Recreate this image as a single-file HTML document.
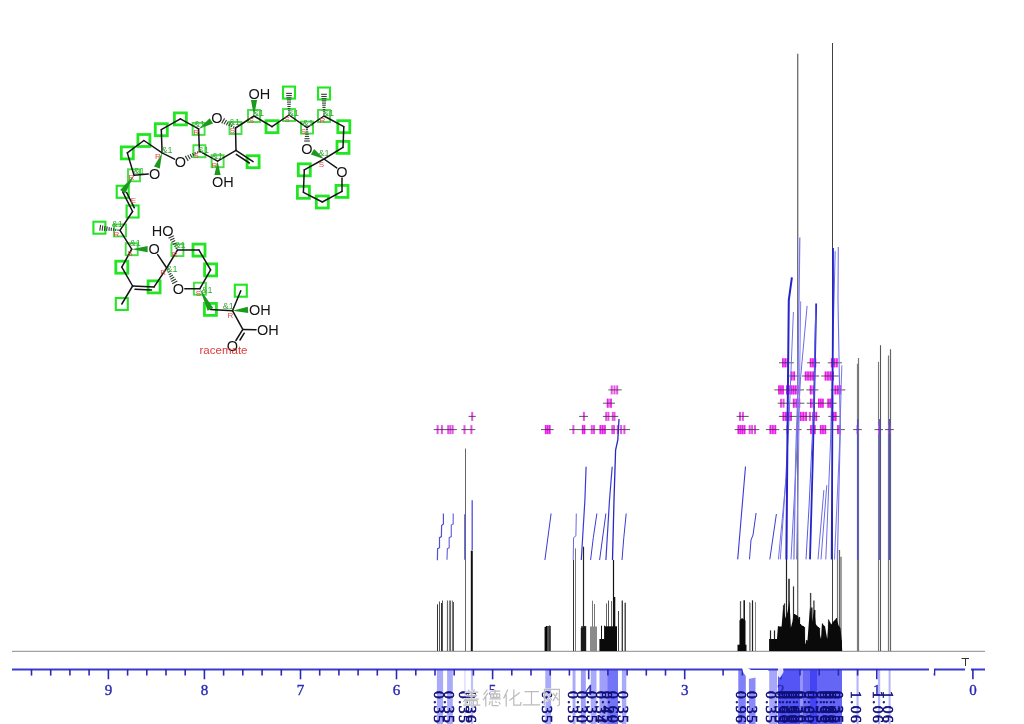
<!DOCTYPE html>
<html><head><meta charset="utf-8"><style>
html,body{margin:0;padding:0;background:#fff;width:1024px;height:724px;overflow:hidden}
svg{display:block;filter:blur(0.35px)}
</style></head><body>
<svg width="1024" height="724" viewBox="0 0 1024 724">
<rect x="436.9" y="670" width="6.2" height="54" fill="#2a2af2" fill-opacity="0.4"/>
<rect x="447.1" y="670" width="5.7" height="54" fill="#2a2af2" fill-opacity="0.4"/>
<rect x="464.3" y="670" width="1.3" height="54" fill="#2a2af2" fill-opacity="0.18"/>
<rect x="470.9" y="670" width="2.2" height="54" fill="#2a2af2" fill-opacity="0.3"/>
<rect x="545.3" y="670" width="5.8" height="54" fill="#2a2af2" fill-opacity="0.4"/>
<rect x="572.6" y="670" width="2.9" height="54" fill="#2a2af2" fill-opacity="0.4"/>
<rect x="580.9" y="670" width="4.9" height="54" fill="#2a2af2" fill-opacity="0.45"/>
<rect x="590.7" y="670" width="5.8" height="54" fill="#2a2af2" fill-opacity="0.4"/>
<rect x="599.5" y="670" width="7.8" height="54" fill="#2a2af2" fill-opacity="0.45"/>
<rect x="607.3" y="670" width="10.7" height="54" fill="#2a2af2" fill-opacity="0.65"/>
<rect x="621.9" y="670" width="4.4" height="54" fill="#2a2af2" fill-opacity="0.4"/>
<rect x="738.3" y="670" width="7.5" height="54" fill="#2a2af2" fill-opacity="0.6"/>
<rect x="748.9" y="670" width="6.6" height="54" fill="#2a2af2" fill-opacity="0.55"/>
<rect x="769.2" y="670" width="8" height="54" fill="#2a2af2" fill-opacity="0.42"/>
<rect x="778" y="670" width="22" height="54" fill="#2a2af2" fill-opacity="0.8"/>
<rect x="800" y="670" width="3" height="54" fill="#2a2af2" fill-opacity="0.5"/>
<rect x="803" y="670" width="7" height="54" fill="#2a2af2" fill-opacity="0.7"/>
<rect x="810" y="670" width="7" height="54" fill="#2a2af2" fill-opacity="0.88"/>
<rect x="817" y="670" width="25" height="54" fill="#2a2af2" fill-opacity="0.72"/>
<rect x="856.5" y="670" width="2.1" height="54" fill="#2a2af2" fill-opacity="0.35"/>
<rect x="878" y="670" width="2.2" height="54" fill="#2a2af2" fill-opacity="0.35"/>
<rect x="888.6" y="670" width="2" height="54" fill="#2a2af2" fill-opacity="0.35"/>
<line x1="12" y1="651.3" x2="985" y2="651.3" stroke="#8a8a8a" stroke-width="1"/>
<line x1="12" y1="669.6" x2="985" y2="669.6" stroke="#3a3ad0" stroke-width="2"/>
<line x1="972.9" y1="669" x2="972.9" y2="679.3" stroke="#2a2ab8" stroke-width="1.6"/>
<text x="972.9" y="694.6" font-family="Liberation Serif" font-size="15" fill="#2a2ab4" stroke="#2a2ab4" stroke-width="0.4" text-anchor="middle">0</text>
<line x1="934.5" y1="669" x2="934.5" y2="675.6" stroke="#2a2ab8" stroke-width="1.6"/>
<line x1="876.8" y1="669" x2="876.8" y2="679.3" stroke="#2a2ab8" stroke-width="1.6"/>
<text x="876.8" y="694.6" font-family="Liberation Serif" font-size="15" fill="#2a2ab4" stroke="#2a2ab4" stroke-width="0.4" text-anchor="middle">1</text>
<line x1="857.6" y1="669" x2="857.6" y2="675.6" stroke="#2a2ab8" stroke-width="1.6"/>
<line x1="838.4" y1="669" x2="838.4" y2="675.6" stroke="#2a2ab8" stroke-width="1.6"/>
<line x1="819.2" y1="669" x2="819.2" y2="675.6" stroke="#2a2ab8" stroke-width="1.6"/>
<line x1="800" y1="669" x2="800" y2="675.6" stroke="#2a2ab8" stroke-width="1.6"/>
<line x1="780.8" y1="669" x2="780.8" y2="679.3" stroke="#2a2ab8" stroke-width="1.6"/>
<text x="780.8" y="694.6" font-family="Liberation Serif" font-size="15" fill="#2a2ab4" stroke="#2a2ab4" stroke-width="0.4" text-anchor="middle">2</text>
<line x1="742.4" y1="669" x2="742.4" y2="675.6" stroke="#2a2ab8" stroke-width="1.6"/>
<line x1="723.1" y1="669" x2="723.1" y2="675.6" stroke="#2a2ab8" stroke-width="1.6"/>
<line x1="684.7" y1="669" x2="684.7" y2="679.3" stroke="#2a2ab8" stroke-width="1.6"/>
<text x="684.7" y="694.6" font-family="Liberation Serif" font-size="15" fill="#2a2ab4" stroke="#2a2ab4" stroke-width="0.4" text-anchor="middle">3</text>
<line x1="665.5" y1="669" x2="665.5" y2="675.6" stroke="#2a2ab8" stroke-width="1.6"/>
<line x1="646.3" y1="669" x2="646.3" y2="675.6" stroke="#2a2ab8" stroke-width="1.6"/>
<line x1="627.1" y1="669" x2="627.1" y2="675.6" stroke="#2a2ab8" stroke-width="1.6"/>
<line x1="607.9" y1="669" x2="607.9" y2="675.6" stroke="#2a2ab8" stroke-width="1.6"/>
<line x1="588.7" y1="669" x2="588.7" y2="679.3" stroke="#2a2ab8" stroke-width="1.6"/>
<text x="588.7" y="694.6" font-family="Liberation Serif" font-size="15" fill="#2a2ab4" stroke="#2a2ab4" stroke-width="0.4" text-anchor="middle">4</text>
<line x1="569.4" y1="669" x2="569.4" y2="675.6" stroke="#2a2ab8" stroke-width="1.6"/>
<line x1="550.2" y1="669" x2="550.2" y2="675.6" stroke="#2a2ab8" stroke-width="1.6"/>
<line x1="531" y1="669" x2="531" y2="675.6" stroke="#2a2ab8" stroke-width="1.6"/>
<line x1="511.8" y1="669" x2="511.8" y2="675.6" stroke="#2a2ab8" stroke-width="1.6"/>
<line x1="492.6" y1="669" x2="492.6" y2="679.3" stroke="#2a2ab8" stroke-width="1.6"/>
<text x="492.6" y="694.6" font-family="Liberation Serif" font-size="15" fill="#2a2ab4" stroke="#2a2ab4" stroke-width="0.4" text-anchor="middle">5</text>
<line x1="473.4" y1="669" x2="473.4" y2="675.6" stroke="#2a2ab8" stroke-width="1.6"/>
<line x1="454.2" y1="669" x2="454.2" y2="675.6" stroke="#2a2ab8" stroke-width="1.6"/>
<line x1="435" y1="669" x2="435" y2="675.6" stroke="#2a2ab8" stroke-width="1.6"/>
<line x1="415.8" y1="669" x2="415.8" y2="675.6" stroke="#2a2ab8" stroke-width="1.6"/>
<line x1="396.5" y1="669" x2="396.5" y2="679.3" stroke="#2a2ab8" stroke-width="1.6"/>
<text x="396.5" y="694.6" font-family="Liberation Serif" font-size="15" fill="#2a2ab4" stroke="#2a2ab4" stroke-width="0.4" text-anchor="middle">6</text>
<line x1="377.3" y1="669" x2="377.3" y2="675.6" stroke="#2a2ab8" stroke-width="1.6"/>
<line x1="358.1" y1="669" x2="358.1" y2="675.6" stroke="#2a2ab8" stroke-width="1.6"/>
<line x1="338.9" y1="669" x2="338.9" y2="675.6" stroke="#2a2ab8" stroke-width="1.6"/>
<line x1="319.7" y1="669" x2="319.7" y2="675.6" stroke="#2a2ab8" stroke-width="1.6"/>
<line x1="300.5" y1="669" x2="300.5" y2="679.3" stroke="#2a2ab8" stroke-width="1.6"/>
<text x="300.5" y="694.6" font-family="Liberation Serif" font-size="15" fill="#2a2ab4" stroke="#2a2ab4" stroke-width="0.4" text-anchor="middle">7</text>
<line x1="281.3" y1="669" x2="281.3" y2="675.6" stroke="#2a2ab8" stroke-width="1.6"/>
<line x1="262.1" y1="669" x2="262.1" y2="675.6" stroke="#2a2ab8" stroke-width="1.6"/>
<line x1="242.8" y1="669" x2="242.8" y2="675.6" stroke="#2a2ab8" stroke-width="1.6"/>
<line x1="223.6" y1="669" x2="223.6" y2="675.6" stroke="#2a2ab8" stroke-width="1.6"/>
<line x1="204.4" y1="669" x2="204.4" y2="679.3" stroke="#2a2ab8" stroke-width="1.6"/>
<text x="204.4" y="694.6" font-family="Liberation Serif" font-size="15" fill="#2a2ab4" stroke="#2a2ab4" stroke-width="0.4" text-anchor="middle">8</text>
<line x1="185.2" y1="669" x2="185.2" y2="675.6" stroke="#2a2ab8" stroke-width="1.6"/>
<line x1="166" y1="669" x2="166" y2="675.6" stroke="#2a2ab8" stroke-width="1.6"/>
<line x1="146.8" y1="669" x2="146.8" y2="675.6" stroke="#2a2ab8" stroke-width="1.6"/>
<line x1="127.6" y1="669" x2="127.6" y2="675.6" stroke="#2a2ab8" stroke-width="1.6"/>
<line x1="108.4" y1="669" x2="108.4" y2="679.3" stroke="#2a2ab8" stroke-width="1.6"/>
<text x="108.4" y="694.6" font-family="Liberation Serif" font-size="15" fill="#2a2ab4" stroke="#2a2ab4" stroke-width="0.4" text-anchor="middle">9</text>
<line x1="89.1" y1="669" x2="89.1" y2="675.6" stroke="#2a2ab8" stroke-width="1.6"/>
<line x1="69.9" y1="669" x2="69.9" y2="675.6" stroke="#2a2ab8" stroke-width="1.6"/>
<line x1="50.7" y1="669" x2="50.7" y2="675.6" stroke="#2a2ab8" stroke-width="1.6"/>
<line x1="31.5" y1="669" x2="31.5" y2="675.6" stroke="#2a2ab8" stroke-width="1.6"/>
<line x1="437.5" y1="651.0" x2="437.5" y2="604.3" stroke="#333" stroke-width="1"/>
<line x1="439.5" y1="651.0" x2="439.5" y2="601.5" stroke="#555" stroke-width="1"/>
<line x1="441.5" y1="651.0" x2="441.5" y2="603" stroke="#333" stroke-width="1"/>
<line x1="442.5" y1="651.0" x2="442.5" y2="600.5" stroke="#555" stroke-width="1"/>
<line x1="447.5" y1="651.0" x2="447.5" y2="600.5" stroke="#666" stroke-width="1.2"/>
<line x1="449.5" y1="651.0" x2="449.5" y2="600.5" stroke="#888" stroke-width="1"/>
<line x1="450.5" y1="651.0" x2="450.5" y2="600.5" stroke="#666" stroke-width="1.2"/>
<line x1="452.5" y1="651.0" x2="452.5" y2="600.5" stroke="#777" stroke-width="1"/>
<line x1="453.5" y1="651.0" x2="453.5" y2="602" stroke="#555" stroke-width="1"/>
<line x1="465.5" y1="651.0" x2="465.5" y2="448.5" stroke="#666" stroke-width="1"/>
<line x1="471.8" y1="651.0" x2="471.8" y2="550.6" stroke="#111" stroke-width="2"/>
<line x1="545.3" y1="651.0" x2="545.3" y2="627" stroke="#111" stroke-width="1.5"/>
<line x1="546.5" y1="651.0" x2="546.5" y2="626" stroke="#000" stroke-width="1.5"/>
<line x1="548.0" y1="651.0" x2="548.0" y2="626" stroke="#222" stroke-width="1.5"/>
<line x1="549.5" y1="651.0" x2="549.5" y2="625.5" stroke="#333" stroke-width="1.2"/>
<line x1="550.5" y1="651.0" x2="550.5" y2="626" stroke="#555" stroke-width="1"/>
<line x1="573.5" y1="651.0" x2="573.5" y2="560" stroke="#333" stroke-width="1"/>
<line x1="575.5" y1="651.0" x2="575.5" y2="548.4" stroke="#777" stroke-width="1"/>
<line x1="583.5" y1="651.0" x2="583.5" y2="546.7" stroke="#222" stroke-width="1.2"/>
<line x1="582.0" y1="651.0" x2="582.0" y2="626" stroke="#111" stroke-width="1.3"/>
<line x1="584.8" y1="651.0" x2="584.8" y2="626" stroke="#111" stroke-width="1.3"/>
<line x1="592.5" y1="651.0" x2="592.5" y2="600.7" stroke="#777" stroke-width="1"/>
<line x1="594.5" y1="651.0" x2="594.5" y2="604" stroke="#777" stroke-width="1"/>
<line x1="596.5" y1="651.0" x2="596.5" y2="627.5" stroke="#555" stroke-width="1"/>
<line x1="601.5" y1="651.0" x2="601.5" y2="625.7" stroke="#111" stroke-width="1"/>
<line x1="604.5" y1="651.0" x2="604.5" y2="625.7" stroke="#222" stroke-width="1"/>
<line x1="606.5" y1="651.0" x2="606.5" y2="603.4" stroke="#666" stroke-width="1"/>
<line x1="608.5" y1="651.0" x2="608.5" y2="600.5" stroke="#555" stroke-width="1"/>
<line x1="611.5" y1="651.0" x2="611.5" y2="601" stroke="#666" stroke-width="1"/>
<line x1="613.5" y1="651.0" x2="613.5" y2="560" stroke="#111" stroke-width="1.2"/>
<line x1="614.6" y1="651.0" x2="614.6" y2="597" stroke="#111" stroke-width="1.4"/>
<line x1="618.5" y1="651.0" x2="618.5" y2="611" stroke="#444" stroke-width="1"/>
<line x1="622.3" y1="651.0" x2="622.3" y2="600.5" stroke="#333" stroke-width="1.3"/>
<line x1="625.2" y1="651.0" x2="625.2" y2="602.8" stroke="#333" stroke-width="1.3"/>
<line x1="740.5" y1="651.0" x2="740.5" y2="601.2" stroke="#444" stroke-width="1.2"/>
<line x1="740.5" y1="651.0" x2="740.5" y2="603" stroke="#555" stroke-width="1"/>
<line x1="744.2" y1="651.0" x2="744.2" y2="600.3" stroke="#111" stroke-width="1.5"/>
<line x1="749.5" y1="651.0" x2="749.5" y2="602.1" stroke="#888" stroke-width="1"/>
<line x1="750.5" y1="651.0" x2="750.5" y2="603" stroke="#aaa" stroke-width="1"/>
<line x1="752.5" y1="651.0" x2="752.5" y2="600.3" stroke="#222" stroke-width="1.2"/>
<line x1="755.5" y1="651.0" x2="755.5" y2="602.1" stroke="#888" stroke-width="1"/>
<line x1="770.5" y1="651.0" x2="770.5" y2="630.4" stroke="#222" stroke-width="1.2"/>
<line x1="774.5" y1="651.0" x2="774.5" y2="630.4" stroke="#222" stroke-width="1.2"/>
<line x1="776.5" y1="651.0" x2="776.5" y2="640" stroke="#222" stroke-width="1"/>
<line x1="778.5" y1="651.0" x2="778.5" y2="626.3" stroke="#111" stroke-width="1.2"/>
<line x1="780.5" y1="651.0" x2="780.5" y2="627.5" stroke="#111" stroke-width="1.2"/>
<line x1="783.5" y1="651.0" x2="783.5" y2="605.2" stroke="#333" stroke-width="1.2"/>
<line x1="784.5" y1="651.0" x2="784.5" y2="603.4" stroke="#333" stroke-width="1.2"/>
<line x1="786.5" y1="651.0" x2="786.5" y2="520" stroke="#222" stroke-width="1.2"/>
<line x1="789.0" y1="651.0" x2="789.0" y2="578.8" stroke="#111" stroke-width="1.4"/>
<line x1="793.5" y1="651.0" x2="793.5" y2="586.4" stroke="#333" stroke-width="1.2"/>
<line x1="794.5" y1="651.0" x2="794.5" y2="614" stroke="#111" stroke-width="1.2"/>
<line x1="796.5" y1="651.0" x2="796.5" y2="615.7" stroke="#111" stroke-width="1.2"/>
<line x1="797.7" y1="651.0" x2="797.7" y2="53.7" stroke="#6a6a6a" stroke-width="1.3"/>
<line x1="799.5" y1="651.0" x2="799.5" y2="617" stroke="#111" stroke-width="1.2"/>
<line x1="803.5" y1="651.0" x2="803.5" y2="626.3" stroke="#111" stroke-width="1.2"/>
<line x1="800.5" y1="651.0" x2="800.5" y2="624" stroke="#111" stroke-width="1.2"/>
<line x1="804.5" y1="651.0" x2="804.5" y2="627" stroke="#222" stroke-width="1.2"/>
<line x1="806.5" y1="651.0" x2="806.5" y2="640" stroke="#222" stroke-width="1"/>
<line x1="810.6" y1="651.0" x2="810.6" y2="592.9" stroke="#444" stroke-width="1.4"/>
<line x1="811.8" y1="651.0" x2="811.8" y2="607.6" stroke="#111" stroke-width="1.4"/>
<line x1="813.9" y1="651.0" x2="813.9" y2="600.5" stroke="#444" stroke-width="1.4"/>
<line x1="814.7" y1="651.0" x2="814.7" y2="610" stroke="#111" stroke-width="1.4"/>
<line x1="815.5" y1="651.0" x2="815.5" y2="624" stroke="#111" stroke-width="1.2"/>
<line x1="818.5" y1="651.0" x2="818.5" y2="627" stroke="#111" stroke-width="1.2"/>
<line x1="819.5" y1="651.0" x2="819.5" y2="628" stroke="#222" stroke-width="1.2"/>
<line x1="822.5" y1="651.0" x2="822.5" y2="623.5" stroke="#333" stroke-width="1.2"/>
<line x1="824.5" y1="651.0" x2="824.5" y2="626.4" stroke="#444" stroke-width="1.2"/>
<line x1="828.5" y1="651.0" x2="828.5" y2="619.4" stroke="#555" stroke-width="1.2"/>
<line x1="829.5" y1="651.0" x2="829.5" y2="625" stroke="#222" stroke-width="1.2"/>
<line x1="832.5" y1="651.0" x2="832.5" y2="43" stroke="#404040" stroke-width="1"/>
<line x1="833.5" y1="651.0" x2="833.5" y2="625" stroke="#111" stroke-width="1.2"/>
<line x1="836.5" y1="651.0" x2="836.5" y2="618" stroke="#222" stroke-width="1.2"/>
<line x1="837.5" y1="651.0" x2="837.5" y2="550" stroke="#777" stroke-width="1.2"/>
<line x1="839.5" y1="651.0" x2="839.5" y2="550" stroke="#666" stroke-width="1.2"/>
<line x1="841.0" y1="651.0" x2="841.0" y2="556.7" stroke="#777" stroke-width="1.4"/>
<line x1="841.5" y1="651.0" x2="841.5" y2="640.5" stroke="#333" stroke-width="1"/>
<line x1="857.5" y1="651.0" x2="857.5" y2="363.7" stroke="#808080" stroke-width="1.2"/>
<line x1="858.5" y1="651.0" x2="858.5" y2="357.9" stroke="#777" stroke-width="1.2"/>
<line x1="878.5" y1="651.0" x2="878.5" y2="361.8" stroke="#777" stroke-width="1.1"/>
<line x1="880.5" y1="651.0" x2="880.5" y2="345.3" stroke="#555" stroke-width="1.1"/>
<line x1="888.5" y1="651.0" x2="888.5" y2="355.5" stroke="#777" stroke-width="1.2"/>
<line x1="890.5" y1="651.0" x2="890.5" y2="349.2" stroke="#666" stroke-width="1.2"/>
<polygon points="580.8,651 580.8,628 586.2,626 586.2,651" fill="#1a1a1a"/>
<polygon points="590,651 590,626.5 597,626.5 597,651" fill="#8a8a8a"/>
<polygon points="599.4,651 599.4,639 606.3,639 606.3,651" fill="#0a0a0a"/>
<polygon points="605,651 605,626.3 617,626.3 617,651" fill="#0a0a0a"/>
<polygon points="739.5,651 739.5,620.5 742,618 745.5,620.5 745.5,651" fill="#0a0a0a"/>
<polygon points="737.5,651 737.5,644.7 746.5,644.7 746.5,651" fill="#0a0a0a"/>
<polygon points="770,651 770,639 777,639 777,651" fill="#0a0a0a"/>
<polygon points="769.1,651 769.1,639 775.4,639 776.4,646 778,626.6 781.6,626.6 783.1,608 785.7,618.3 787.5,612 789.4,600.7 790.9,627.7 792.5,621.5 793.5,614.2 795,614.2 798.2,616.3 800.2,624.6 803.9,626.6 805.4,644.2 807.5,640 810,607 812.2,621.5 814.2,609 815.8,624.6 817.8,626.6 821,639 822,623.5 825,626.6 827.2,639 828.7,619.4 831.3,624.6 832.9,622 836.5,618.3 838.6,625.6 840.5,628 841.7,640 842.2,651" fill="#0a0a0a"/>
<rect x="436.6" y="425.1" width="2" height="9" fill="#e850e8"/>
<rect x="440.9" y="425.1" width="2" height="9" fill="#e850e8"/>
<rect x="447.2" y="425.1" width="2" height="9" fill="#e850e8"/>
<rect x="449.3" y="425.1" width="2" height="9" fill="#e850e8"/>
<rect x="451.6" y="425.1" width="2" height="9" fill="#e850e8"/>
<line x1="433.7" y1="429.6" x2="456.9" y2="429.6" stroke="#303030" stroke-width="1" stroke-opacity="0.8"/>
<rect x="463.5" y="425.1" width="2" height="9" fill="#e850e8"/>
<rect x="470.4" y="425.1" width="2" height="9" fill="#e850e8"/>
<line x1="461.3" y1="429.6" x2="475.3" y2="429.6" stroke="#303030" stroke-width="1" stroke-opacity="0.8"/>
<rect x="471.2" y="411.9" width="2" height="9" fill="#e850e8"/>
<line x1="468.5" y1="416.4" x2="475.8" y2="416.4" stroke="#303030" stroke-width="1" stroke-opacity="0.8"/>
<rect x="544.9" y="425.1" width="5.5" height="9" fill="#f07af0"/>
<rect x="544.9" y="425.1" width="1.5" height="9" fill="#ee1aee"/>
<rect x="546.9" y="425.1" width="1.5" height="9" fill="#ee1aee"/>
<rect x="549" y="425.1" width="1.5" height="9" fill="#ee1aee"/>
<line x1="541" y1="429.6" x2="553.7" y2="429.6" stroke="#303030" stroke-width="1" stroke-opacity="0.8"/>
<rect x="572.4" y="425.1" width="2" height="9" fill="#e850e8"/>
<rect x="581.9" y="425.1" width="3.3" height="9" fill="#f07af0"/>
<rect x="581.9" y="425.1" width="1.5" height="9" fill="#ee1aee"/>
<rect x="583.8" y="425.1" width="1.5" height="9" fill="#ee1aee"/>
<rect x="590.8" y="425.1" width="2" height="9" fill="#e850e8"/>
<rect x="593" y="425.1" width="2" height="9" fill="#e850e8"/>
<rect x="599.6" y="425.1" width="6" height="9" fill="#f07af0"/>
<rect x="599.6" y="425.1" width="1.5" height="9" fill="#ee1aee"/>
<rect x="601.9" y="425.1" width="1.5" height="9" fill="#ee1aee"/>
<rect x="604.2" y="425.1" width="1.5" height="9" fill="#ee1aee"/>
<rect x="611.3" y="425.1" width="2" height="9" fill="#e850e8"/>
<rect x="613" y="425.1" width="2" height="9" fill="#e850e8"/>
<rect x="616.8" y="425.1" width="2" height="9" fill="#e850e8"/>
<rect x="620.1" y="425.1" width="2" height="9" fill="#e850e8"/>
<rect x="623.4" y="425.1" width="2" height="9" fill="#e850e8"/>
<line x1="569.2" y1="429.6" x2="630" y2="429.6" stroke="#303030" stroke-width="1" stroke-opacity="0.8"/>
<rect x="582.9" y="411.9" width="2" height="9" fill="#e850e8"/>
<line x1="579.1" y1="416.4" x2="588" y2="416.4" stroke="#303030" stroke-width="1" stroke-opacity="0.8"/>
<rect x="605.2" y="411.9" width="2" height="9" fill="#e850e8"/>
<rect x="607.4" y="411.9" width="2" height="9" fill="#e850e8"/>
<rect x="611.8" y="411.9" width="2" height="9" fill="#e850e8"/>
<rect x="613.5" y="411.9" width="2" height="9" fill="#e850e8"/>
<line x1="602.9" y1="416.4" x2="618.3" y2="416.4" stroke="#303030" stroke-width="1" stroke-opacity="0.8"/>
<rect x="606.8" y="398.7" width="4.9" height="9" fill="#f07af0"/>
<rect x="606.8" y="398.7" width="1.5" height="9" fill="#ee1aee"/>
<rect x="610.3" y="398.7" width="1.5" height="9" fill="#ee1aee"/>
<line x1="602.9" y1="403.2" x2="615" y2="403.2" stroke="#303030" stroke-width="1" stroke-opacity="0.8"/>
<rect x="610.7" y="385.4" width="2" height="9" fill="#e850e8"/>
<rect x="613.5" y="385.4" width="2" height="9" fill="#e850e8"/>
<rect x="616.2" y="385.4" width="2" height="9" fill="#e850e8"/>
<line x1="608.4" y1="389.9" x2="621.7" y2="389.9" stroke="#303030" stroke-width="1" stroke-opacity="0.8"/>
<rect x="739" y="411.9" width="2" height="9" fill="#e850e8"/>
<rect x="741.9" y="411.9" width="2" height="9" fill="#e850e8"/>
<line x1="736.6" y1="416.4" x2="748.7" y2="416.4" stroke="#303030" stroke-width="1" stroke-opacity="0.8"/>
<rect x="737.6" y="425.1" width="7.7" height="9" fill="#f07af0"/>
<rect x="737.6" y="425.1" width="1.5" height="9" fill="#ee1aee"/>
<rect x="739.7" y="425.1" width="1.5" height="9" fill="#ee1aee"/>
<rect x="741.8" y="425.1" width="1.5" height="9" fill="#ee1aee"/>
<rect x="743.9" y="425.1" width="1.5" height="9" fill="#ee1aee"/>
<rect x="748.7" y="425.1" width="2" height="9" fill="#e850e8"/>
<rect x="751.1" y="425.1" width="2" height="9" fill="#e850e8"/>
<rect x="754" y="425.1" width="2" height="9" fill="#e850e8"/>
<line x1="734.7" y1="429.6" x2="759.3" y2="429.6" stroke="#303030" stroke-width="1" stroke-opacity="0.8"/>
<rect x="769.6" y="425.1" width="6.5" height="9" fill="#f07af0"/>
<rect x="769.6" y="425.1" width="1.5" height="9" fill="#ee1aee"/>
<rect x="772.1" y="425.1" width="1.5" height="9" fill="#ee1aee"/>
<rect x="774.7" y="425.1" width="1.5" height="9" fill="#ee1aee"/>
<line x1="765.9" y1="429.6" x2="779.2" y2="429.6" stroke="#303030" stroke-width="1" stroke-opacity="0.8"/>
<rect x="786.4" y="425.1" width="2" height="9" fill="#e850e8"/>
<line x1="783.3" y1="429.6" x2="791.7" y2="429.6" stroke="#303030" stroke-width="1" stroke-opacity="0.8"/>
<rect x="796.7" y="425.1" width="2" height="9" fill="#e850e8"/>
<line x1="794.2" y1="429.6" x2="801.6" y2="429.6" stroke="#303030" stroke-width="1" stroke-opacity="0.8"/>
<rect x="810.3" y="425.1" width="5.2" height="9" fill="#f07af0"/>
<rect x="810.2" y="425.1" width="1.5" height="9" fill="#ee1aee"/>
<rect x="814.1" y="425.1" width="1.5" height="9" fill="#ee1aee"/>
<rect x="819.9" y="425.1" width="6.2" height="9" fill="#f07af0"/>
<rect x="819.9" y="425.1" width="1.5" height="9" fill="#ee1aee"/>
<rect x="822.2" y="425.1" width="1.5" height="9" fill="#ee1aee"/>
<rect x="824.7" y="425.1" width="1.5" height="9" fill="#ee1aee"/>
<rect x="837.3" y="425.1" width="3.1" height="9" fill="#f07af0"/>
<rect x="837.2" y="425.1" width="1.5" height="9" fill="#ee1aee"/>
<rect x="839" y="425.1" width="1.5" height="9" fill="#ee1aee"/>
<line x1="806.8" y1="429.6" x2="844.8" y2="429.6" stroke="#303030" stroke-width="1" stroke-opacity="0.8"/>
<rect x="782.1" y="358.3" width="6.3" height="9" fill="#f07af0"/>
<rect x="782.1" y="358.3" width="1.5" height="9" fill="#ee1aee"/>
<rect x="784.5" y="358.3" width="1.5" height="9" fill="#ee1aee"/>
<rect x="787" y="358.3" width="1.5" height="9" fill="#ee1aee"/>
<line x1="779" y1="362.8" x2="793.8" y2="362.8" stroke="#303030" stroke-width="1" stroke-opacity="0.8"/>
<rect x="809.8" y="358.3" width="6.3" height="9" fill="#f07af0"/>
<rect x="809.8" y="358.3" width="1.5" height="9" fill="#ee1aee"/>
<rect x="812.2" y="358.3" width="1.5" height="9" fill="#ee1aee"/>
<rect x="814.7" y="358.3" width="1.5" height="9" fill="#ee1aee"/>
<line x1="807.1" y1="362.8" x2="820" y2="362.8" stroke="#303030" stroke-width="1" stroke-opacity="0.8"/>
<rect x="830.9" y="358.3" width="6.7" height="9" fill="#f07af0"/>
<rect x="830.9" y="358.3" width="1.5" height="9" fill="#ee1aee"/>
<rect x="833.5" y="358.3" width="1.5" height="9" fill="#ee1aee"/>
<rect x="836.2" y="358.3" width="1.5" height="9" fill="#ee1aee"/>
<line x1="827.8" y1="362.8" x2="841.9" y2="362.8" stroke="#303030" stroke-width="1" stroke-opacity="0.8"/>
<rect x="790.7" y="371.5" width="4.3" height="9" fill="#f07af0"/>
<rect x="790.7" y="371.5" width="1.5" height="9" fill="#ee1aee"/>
<rect x="793.6" y="371.5" width="1.5" height="9" fill="#ee1aee"/>
<line x1="787.2" y1="376" x2="799.3" y2="376" stroke="#303030" stroke-width="1" stroke-opacity="0.8"/>
<rect x="804.8" y="371.5" width="9" height="9" fill="#f07af0"/>
<rect x="804.8" y="371.5" width="1.5" height="9" fill="#ee1aee"/>
<rect x="807.3" y="371.5" width="1.5" height="9" fill="#ee1aee"/>
<rect x="809.8" y="371.5" width="1.5" height="9" fill="#ee1aee"/>
<rect x="812.4" y="371.5" width="1.5" height="9" fill="#ee1aee"/>
<line x1="802" y1="376" x2="819.2" y2="376" stroke="#303030" stroke-width="1" stroke-opacity="0.8"/>
<rect x="824.7" y="371.5" width="9" height="9" fill="#f07af0"/>
<rect x="824.7" y="371.5" width="1.5" height="9" fill="#ee1aee"/>
<rect x="827.2" y="371.5" width="1.5" height="9" fill="#ee1aee"/>
<rect x="829.7" y="371.5" width="1.5" height="9" fill="#ee1aee"/>
<rect x="832.3" y="371.5" width="1.5" height="9" fill="#ee1aee"/>
<line x1="821.2" y1="376" x2="838.8" y2="376" stroke="#303030" stroke-width="1" stroke-opacity="0.8"/>
<rect x="778.2" y="385.4" width="5.5" height="9" fill="#f07af0"/>
<rect x="778.2" y="385.4" width="1.5" height="9" fill="#ee1aee"/>
<rect x="780.2" y="385.4" width="1.5" height="9" fill="#ee1aee"/>
<rect x="782.3" y="385.4" width="1.5" height="9" fill="#ee1aee"/>
<rect x="786" y="385.4" width="12.5" height="9" fill="#f07af0"/>
<rect x="786" y="385.4" width="1.5" height="9" fill="#ee1aee"/>
<rect x="788.2" y="385.4" width="1.5" height="9" fill="#ee1aee"/>
<rect x="790.4" y="385.4" width="1.5" height="9" fill="#ee1aee"/>
<rect x="792.6" y="385.4" width="1.5" height="9" fill="#ee1aee"/>
<rect x="794.8" y="385.4" width="1.5" height="9" fill="#ee1aee"/>
<rect x="797.1" y="385.4" width="1.5" height="9" fill="#ee1aee"/>
<line x1="774.3" y1="389.9" x2="804" y2="389.9" stroke="#303030" stroke-width="1" stroke-opacity="0.8"/>
<rect x="809.8" y="385.4" width="5.1" height="9" fill="#f07af0"/>
<rect x="809.8" y="385.4" width="1.5" height="9" fill="#ee1aee"/>
<rect x="813.5" y="385.4" width="1.5" height="9" fill="#ee1aee"/>
<line x1="806.3" y1="389.9" x2="818.4" y2="389.9" stroke="#303030" stroke-width="1" stroke-opacity="0.8"/>
<rect x="834.5" y="385.4" width="6.6" height="9" fill="#f07af0"/>
<rect x="834.5" y="385.4" width="1.5" height="9" fill="#ee1aee"/>
<rect x="837.1" y="385.4" width="1.5" height="9" fill="#ee1aee"/>
<rect x="839.7" y="385.4" width="1.5" height="9" fill="#ee1aee"/>
<line x1="830.5" y1="389.9" x2="845.4" y2="389.9" stroke="#303030" stroke-width="1" stroke-opacity="0.8"/>
<rect x="780" y="398.7" width="2" height="9" fill="#e850e8"/>
<rect x="782.5" y="398.7" width="2" height="9" fill="#e850e8"/>
<rect x="792.9" y="398.7" width="7.2" height="9" fill="#f07af0"/>
<rect x="792.9" y="398.7" width="1.5" height="9" fill="#ee1aee"/>
<rect x="795.8" y="398.7" width="1.5" height="9" fill="#ee1aee"/>
<rect x="798.7" y="398.7" width="1.5" height="9" fill="#ee1aee"/>
<line x1="777.7" y1="403.2" x2="804.4" y2="403.2" stroke="#303030" stroke-width="1" stroke-opacity="0.8"/>
<rect x="810" y="398.7" width="4.9" height="9" fill="#f07af0"/>
<rect x="810" y="398.7" width="1.5" height="9" fill="#ee1aee"/>
<rect x="813.5" y="398.7" width="1.5" height="9" fill="#ee1aee"/>
<rect x="818" y="398.7" width="5.6" height="9" fill="#f07af0"/>
<rect x="818" y="398.7" width="1.5" height="9" fill="#ee1aee"/>
<rect x="820.1" y="398.7" width="1.5" height="9" fill="#ee1aee"/>
<rect x="822.2" y="398.7" width="1.5" height="9" fill="#ee1aee"/>
<rect x="827.4" y="398.7" width="5.6" height="9" fill="#f07af0"/>
<rect x="827.4" y="398.7" width="1.5" height="9" fill="#ee1aee"/>
<rect x="829.5" y="398.7" width="1.5" height="9" fill="#ee1aee"/>
<rect x="831.6" y="398.7" width="1.5" height="9" fill="#ee1aee"/>
<line x1="806.8" y1="403.2" x2="836.7" y2="403.2" stroke="#303030" stroke-width="1" stroke-opacity="0.8"/>
<rect x="782.6" y="411.9" width="9.1" height="9" fill="#f07af0"/>
<rect x="782.6" y="411.9" width="1.5" height="9" fill="#ee1aee"/>
<rect x="785.1" y="411.9" width="1.5" height="9" fill="#ee1aee"/>
<rect x="787.7" y="411.9" width="1.5" height="9" fill="#ee1aee"/>
<rect x="790.3" y="411.9" width="1.5" height="9" fill="#ee1aee"/>
<rect x="799.8" y="411.9" width="7" height="9" fill="#f07af0"/>
<rect x="799.8" y="411.9" width="1.5" height="9" fill="#ee1aee"/>
<rect x="802.5" y="411.9" width="1.5" height="9" fill="#ee1aee"/>
<rect x="805.4" y="411.9" width="1.5" height="9" fill="#ee1aee"/>
<rect x="808.9" y="411.9" width="2" height="9" fill="#e850e8"/>
<rect x="812.4" y="411.9" width="4.7" height="9" fill="#f07af0"/>
<rect x="812.4" y="411.9" width="1.5" height="9" fill="#ee1aee"/>
<rect x="815.7" y="411.9" width="1.5" height="9" fill="#ee1aee"/>
<line x1="778.9" y1="416.4" x2="819.9" y2="416.4" stroke="#303030" stroke-width="1" stroke-opacity="0.8"/>
<rect x="831.1" y="411.9" width="5.3" height="9" fill="#f07af0"/>
<rect x="831.1" y="411.9" width="1.5" height="9" fill="#ee1aee"/>
<rect x="833" y="411.9" width="1.5" height="9" fill="#ee1aee"/>
<rect x="835" y="411.9" width="1.5" height="9" fill="#ee1aee"/>
<line x1="828.3" y1="416.4" x2="840.7" y2="416.4" stroke="#303030" stroke-width="1" stroke-opacity="0.8"/>
<rect x="856.5" y="425.1" width="2" height="9" fill="#e850e8"/>
<line x1="853.2" y1="429.6" x2="861.8" y2="429.6" stroke="#303030" stroke-width="1" stroke-opacity="0.8"/>
<rect x="878" y="425.1" width="2" height="9" fill="#e850e8"/>
<line x1="874.5" y1="429.6" x2="883" y2="429.6" stroke="#303030" stroke-width="1" stroke-opacity="0.8"/>
<rect x="888.5" y="425.1" width="2" height="9" fill="#e850e8"/>
<line x1="885" y1="429.6" x2="893.8" y2="429.6" stroke="#303030" stroke-width="1" stroke-opacity="0.8"/>
<polyline points="437.4,560.3 437.6,548.7 439.5,547.7 439.5,537.6 441.4,536.6 441.6,525.5 443.4,524 443.4,513.4" fill="none" stroke="#5050d0" stroke-width="1.2"/>
<polyline points="447,559.8 447.4,548.7 449.2,547.7 449.2,537.6 451.3,536.6 451.3,525 453.2,524 453.2,513.4" fill="none" stroke="#6a6ae0" stroke-width="1.2"/>
<polyline points="464.7,559.8 464.7,514.3" fill="none" stroke="#6060e0" stroke-width="1.2"/>
<polyline points="472.2,550 472.2,500.3" fill="none" stroke="#5a5ae0" stroke-width="1.4"/>
<polyline points="544.9,560 551.1,513.5" fill="none" stroke="#3a3ad8" stroke-width="1"/>
<polyline points="573.2,560 573.6,537.7 575.9,535.9 576.3,513.5" fill="none" stroke="#6868e8" stroke-width="1"/>
<polyline points="581.3,560 584.9,500 586.1,466.8" fill="none" stroke="#3a3ad8" stroke-width="1.2"/>
<polyline points="590.6,560 593.3,537.7 596.9,513.5" fill="none" stroke="#3a3ad8" stroke-width="1"/>
<polyline points="599.6,560 605.9,513.5" fill="none" stroke="#3a3ad8" stroke-width="1"/>
<polyline points="605.9,560 609.5,500 612.2,466.8" fill="none" stroke="#3a3ad8" stroke-width="1.2"/>
<polyline points="612.5,560 614,500 615.6,450 617.8,440 619,419" fill="none" stroke="#2828c0" stroke-width="1.3"/>
<polyline points="622,560 623.8,537.7 626.2,513.5" fill="none" stroke="#3a3ad8" stroke-width="1"/>
<polyline points="737.7,559.4 741,520 745.5,466.5" fill="none" stroke="#3a3ad8" stroke-width="1.1"/>
<polyline points="749.5,559.4 751,540 753,535 756.1,513" fill="none" stroke="#3a3ad8" stroke-width="1"/>
<polyline points="769.8,559.4 776.4,514" fill="none" stroke="#3a3ad8" stroke-width="1"/>
<polyline points="778.4,559.4 786.1,478.4" fill="none" stroke="#7272ea" stroke-width="1"/>
<polyline points="780.3,559.4 785.2,488 789,420 793.4,312" fill="none" stroke="#7272ea" stroke-width="1"/>
<polyline points="786.4,559.4 787.5,430 788.8,300 791.9,277.4" fill="none" stroke="#2424c8" stroke-width="2.0"/>
<polyline points="791,559.4 796.8,451.3 800.4,380 807.1,305.9" fill="none" stroke="#6a6ae8" stroke-width="1"/>
<polyline points="793.9,559.4 795.8,453 797.6,400 799.8,237.5" fill="none" stroke="#7a7aee" stroke-width="1.3"/>
<polyline points="796.5,559.4 798.5,460 800.7,301.3" fill="none" stroke="#8080ee" stroke-width="1"/>
<polyline points="810,559.4 812.5,470 813.5,430 816.2,303.6" fill="none" stroke="#2424c8" stroke-width="1.8"/>
<polyline points="806,559.4 809,507 814,400 815.8,303.9" fill="none" stroke="#5a5ae8" stroke-width="1"/>
<polyline points="818,559.4 823.9,490" fill="none" stroke="#6a6ae8" stroke-width="1"/>
<polyline points="821,559.4 826.8,485.2" fill="none" stroke="#6a6ae8" stroke-width="1"/>
<polyline points="825.8,559.4 830.6,440 835.2,251.2" fill="none" stroke="#6a6ae8" stroke-width="1"/>
<polyline points="831.7,559.4 833,300 833,248" fill="none" stroke="#2424c8" stroke-width="1.8"/>
<polyline points="834.5,559.4 839.4,449.4 841.8,365.2" fill="none" stroke="#8080ee" stroke-width="1.1"/>
<polyline points="837.4,559.4 840.3,430 838,300 838.3,247" fill="none" stroke="#7070ee" stroke-width="1.1"/>
<polyline points="857.7,560 857.7,419" fill="none" stroke="#5050d0" stroke-width="1.4"/>
<polyline points="879.8,560 879.8,419" fill="none" stroke="#5050d0" stroke-width="1.4"/>
<polyline points="889.6,560 889.6,419" fill="none" stroke="#5050d0" stroke-width="1.4"/>
<text transform="translate(433.5,691) rotate(90)" font-family="Liberation Serif" font-size="15.5" letter-spacing="1.5" fill="#10107a" stroke="#10107a" stroke-width="0.6">0.35</text>
<text transform="translate(443.7,691) rotate(90)" font-family="Liberation Serif" font-size="15.5" letter-spacing="1.5" fill="#10107a" stroke="#10107a" stroke-width="0.6">0.35</text>
<text transform="translate(458.5,691) rotate(90)" font-family="Liberation Serif" font-size="15.5" letter-spacing="1.5" fill="#10107a" stroke="#10107a" stroke-width="0.6">0.35</text>
<text transform="translate(466,691) rotate(90)" font-family="Liberation Serif" font-size="15.5" letter-spacing="1.5" fill="#10107a" stroke="#10107a" stroke-width="0.6">0.36</text>
<text transform="translate(541.7,691) rotate(90)" font-family="Liberation Serif" font-size="15.5" letter-spacing="1.5" fill="#10107a" stroke="#10107a" stroke-width="0.6">0.35</text>
<text transform="translate(568.2,691) rotate(90)" font-family="Liberation Serif" font-size="15.5" letter-spacing="1.5" fill="#10107a" stroke="#10107a" stroke-width="0.6">0.35</text>
<text transform="translate(577.4,691) rotate(90)" font-family="Liberation Serif" font-size="15.5" letter-spacing="1.5" fill="#10107a" stroke="#10107a" stroke-width="0.6">0.30</text>
<text transform="translate(587.4,691) rotate(90)" font-family="Liberation Serif" font-size="15.5" letter-spacing="1.5" fill="#10107a" stroke="#10107a" stroke-width="0.6">0.35</text>
<text transform="translate(596.2,691) rotate(90)" font-family="Liberation Serif" font-size="15.5" letter-spacing="1.5" fill="#10107a" stroke="#10107a" stroke-width="0.6">0.34</text>
<text transform="translate(602.2,691) rotate(90)" font-family="Liberation Serif" font-size="15.5" letter-spacing="1.5" fill="#10107a" stroke="#10107a" stroke-width="0.6">0.45</text>
<text transform="translate(607.9,691) rotate(90)" font-family="Liberation Serif" font-size="15.5" letter-spacing="1.5" fill="#10107a" stroke="#10107a" stroke-width="0.6">0.60</text>
<text transform="translate(617.6,691) rotate(90)" font-family="Liberation Serif" font-size="15.5" letter-spacing="1.5" fill="#10107a" stroke="#10107a" stroke-width="0.6">0.35</text>
<text transform="translate(735.9,691) rotate(90)" font-family="Liberation Serif" font-size="15.5" letter-spacing="1.5" fill="#10107a" stroke="#10107a" stroke-width="0.6">0.96</text>
<text transform="translate(746.5,691) rotate(90)" font-family="Liberation Serif" font-size="15.5" letter-spacing="1.5" fill="#10107a" stroke="#10107a" stroke-width="0.6">0.35</text>
<text transform="translate(766,691) rotate(90)" font-family="Liberation Serif" font-size="15.5" letter-spacing="1.5" fill="#10107a" stroke="#10107a" stroke-width="0.6">0.35</text>
<text transform="translate(774.5,691) rotate(90)" font-family="Liberation Serif" font-size="15.5" letter-spacing="1.5" fill="#10107a" stroke="#10107a" stroke-width="0.6">0.35</text>
<text transform="translate(779,691) rotate(90)" font-family="Liberation Serif" font-size="15.5" letter-spacing="1.5" fill="#10107a" stroke="#10107a" stroke-width="0.6">0.60</text>
<text transform="translate(782,691) rotate(90)" font-family="Liberation Serif" font-size="15.5" letter-spacing="1.5" fill="#10107a" stroke="#10107a" stroke-width="0.6">0.35</text>
<text transform="translate(786,691) rotate(90)" font-family="Liberation Serif" font-size="15.5" letter-spacing="1.5" fill="#10107a" stroke="#10107a" stroke-width="0.6">0.30</text>
<text transform="translate(789,691) rotate(90)" font-family="Liberation Serif" font-size="15.5" letter-spacing="1.5" fill="#10107a" stroke="#10107a" stroke-width="0.6">0.60</text>
<text transform="translate(793,691) rotate(90)" font-family="Liberation Serif" font-size="15.5" letter-spacing="1.5" fill="#10107a" stroke="#10107a" stroke-width="0.6">0.35</text>
<text transform="translate(796,691) rotate(90)" font-family="Liberation Serif" font-size="15.5" letter-spacing="1.5" fill="#10107a" stroke="#10107a" stroke-width="0.6">0.30</text>
<text transform="translate(804,691) rotate(90)" font-family="Liberation Serif" font-size="15.5" letter-spacing="1.5" fill="#10107a" stroke="#10107a" stroke-width="0.6">0.60</text>
<text transform="translate(807.5,691) rotate(90)" font-family="Liberation Serif" font-size="15.5" letter-spacing="1.5" fill="#10107a" stroke="#10107a" stroke-width="0.6">0.35</text>
<text transform="translate(816,691) rotate(90)" font-family="Liberation Serif" font-size="15.5" letter-spacing="1.5" fill="#10107a" stroke="#10107a" stroke-width="0.6">0.35</text>
<text transform="translate(819.5,691) rotate(90)" font-family="Liberation Serif" font-size="15.5" letter-spacing="1.5" fill="#10107a" stroke="#10107a" stroke-width="0.6">0.60</text>
<text transform="translate(823,691) rotate(90)" font-family="Liberation Serif" font-size="15.5" letter-spacing="1.5" fill="#10107a" stroke="#10107a" stroke-width="0.6">0.35</text>
<text transform="translate(826,691) rotate(90)" font-family="Liberation Serif" font-size="15.5" letter-spacing="1.5" fill="#10107a" stroke="#10107a" stroke-width="0.6">0.60</text>
<text transform="translate(830,691) rotate(90)" font-family="Liberation Serif" font-size="15.5" letter-spacing="1.5" fill="#10107a" stroke="#10107a" stroke-width="0.6">0.35</text>
<text transform="translate(832.5,691) rotate(90)" font-family="Liberation Serif" font-size="15.5" letter-spacing="1.5" fill="#10107a" stroke="#10107a" stroke-width="0.6">0.35</text>
<text transform="translate(851.3,691) rotate(90)" font-family="Liberation Serif" font-size="15.5" letter-spacing="1.5" fill="#10107a" stroke="#10107a" stroke-width="0.6">1.06</text>
<text transform="translate(872.6,691) rotate(90)" font-family="Liberation Serif" font-size="15.5" letter-spacing="1.5" fill="#10107a" stroke="#10107a" stroke-width="0.6">1.06</text>
<text transform="translate(883,691) rotate(90)" font-family="Liberation Serif" font-size="15.5" letter-spacing="1.5" fill="#10107a" stroke="#10107a" stroke-width="0.6">1.06</text>
<path d="M468.1,689.6 L469.4,691.3 M474.5,689.4 L473.2,691.3 M465.4,692.1 L478.3,692.1 M466.4,695.5 L477.2,695.5 M471.5,691.3 L471.5,699 M464.3,699 L478.8,699 M465.9,700.6 L477.2,700.6 M465.9,700.6 L465.9,705.2 M469.7,700.6 L469.7,705.2 M473.4,700.6 L473.4,705.2 M477.2,700.6 L477.2,705.2 M463.2,705.2 L480.4,705.2 M466.4,699 L463.2,701.7 M487.4,689.6 L483.6,694.7 M487.9,693.1 L483.1,700.1 M485.8,696.9 L485.8,706.6 M490.1,691 L500.3,691 M494.9,689.4 L494.9,693.4 M490.6,693.9 L499.7,693.9 M490.6,693.9 L490.6,697.4 M499.7,693.9 L499.7,697.4 M493.6,693.9 L493.6,697.4 M496.8,693.9 L496.8,697.4 M490.6,697.4 L499.7,697.4 M489.5,698.8 L500.8,698.8 M490.1,701.2 L489.3,704.9 M492.2,700.6 L492.2,705.5 L498.7,705.5 M495.4,701.2 L496.5,702.8 M498.7,701.7 L500.3,704.4 M507.8,689.4 L503.6,698.5 M506.2,694.2 L506.2,706.6 M513.8,689.6 L513.8,705 L520.7,705 L520.9,702 M519.7,692.6 L509.5,700.6 M524.5,691.5 L539,691.5 M531.5,691.5 L531.5,704.9 M522.9,704.9 L540.1,704.9 M544.4,705.5 L544.4,689.4 L559.4,689.4 L559.4,704.9 L557.3,706 M546.5,693.1 L551.9,700.1 M550.8,693.1 L547.1,700.6 M553,693.1 L558.3,700.1 M557.3,692.6 L553,701.2" fill="none" stroke="#ffffff" stroke-width="1.8" stroke-linecap="round"/>
<path d="M468.1,689.6 L469.4,691.3 M474.5,689.4 L473.2,691.3 M465.4,692.1 L478.3,692.1 M466.4,695.5 L477.2,695.5 M471.5,691.3 L471.5,699 M464.3,699 L478.8,699 M465.9,700.6 L477.2,700.6 M465.9,700.6 L465.9,705.2 M469.7,700.6 L469.7,705.2 M473.4,700.6 L473.4,705.2 M477.2,700.6 L477.2,705.2 M463.2,705.2 L480.4,705.2 M466.4,699 L463.2,701.7 M487.4,689.6 L483.6,694.7 M487.9,693.1 L483.1,700.1 M485.8,696.9 L485.8,706.6 M490.1,691 L500.3,691 M494.9,689.4 L494.9,693.4 M490.6,693.9 L499.7,693.9 M490.6,693.9 L490.6,697.4 M499.7,693.9 L499.7,697.4 M493.6,693.9 L493.6,697.4 M496.8,693.9 L496.8,697.4 M490.6,697.4 L499.7,697.4 M489.5,698.8 L500.8,698.8 M490.1,701.2 L489.3,704.9 M492.2,700.6 L492.2,705.5 L498.7,705.5 M495.4,701.2 L496.5,702.8 M498.7,701.7 L500.3,704.4 M507.8,689.4 L503.6,698.5 M506.2,694.2 L506.2,706.6 M513.8,689.6 L513.8,705 L520.7,705 L520.9,702 M519.7,692.6 L509.5,700.6 M524.5,691.5 L539,691.5 M531.5,691.5 L531.5,704.9 M522.9,704.9 L540.1,704.9 M544.4,705.5 L544.4,689.4 L559.4,689.4 L559.4,704.9 L557.3,706 M546.5,693.1 L551.9,700.1 M550.8,693.1 L547.1,700.6 M553,693.1 L558.3,700.1 M557.3,692.6 L553,701.2" fill="none" stroke="#bcbcbc" stroke-width="1.25"/>
<polygon points="742,667 746,667 751,670 768,670 768,673 756,677.5 748,679 743,672" fill="#ffffff"/>
<polygon points="778,668 783,667 783.5,672 780,678 778,676" fill="#ffffff" fill-opacity="0.85"/>
<rect x="929" y="667" width="5" height="6" fill="#ffffff"/>
<rect x="965" y="667" width="6" height="6" fill="#ffffff"/>
<path d="M961.5,658.5 L969,658.5 M965.5,658.5 L965.5,666" stroke="#333" stroke-width="1"/>
<rect x="174.4" y="112.9" width="12" height="12" fill="none" stroke="#22e622" stroke-width="2.8"/>
<rect x="155.3" y="123.7" width="12" height="12" fill="none" stroke="#22e622" stroke-width="2.8"/>
<rect x="137.9" y="134.5" width="12" height="12" fill="none" stroke="#22e622" stroke-width="2.8"/>
<rect x="121.3" y="146.9" width="12" height="12" fill="none" stroke="#22e622" stroke-width="2.8"/>
<rect x="116.7" y="185.8" width="12" height="12" fill="none" stroke="#22e622" stroke-width="2.1"/>
<rect x="126.6" y="205.5" width="12" height="12" fill="none" stroke="#22e622" stroke-width="2.1"/>
<rect x="93.4" y="221.7" width="12" height="12" fill="none" stroke="#22e622" stroke-width="2.1"/>
<rect x="115.8" y="261.2" width="12" height="12" fill="none" stroke="#22e622" stroke-width="2.8"/>
<rect x="148.1" y="280.9" width="12" height="12" fill="none" stroke="#22e622" stroke-width="2.8"/>
<rect x="115.8" y="298" width="12" height="12" fill="none" stroke="#22e622" stroke-width="2.1"/>
<rect x="193" y="244.1" width="12" height="12" fill="none" stroke="#22e622" stroke-width="2.8"/>
<rect x="204.6" y="263.9" width="12" height="12" fill="none" stroke="#22e622" stroke-width="2.8"/>
<rect x="204.4" y="303.4" width="12" height="12" fill="none" stroke="#22e622" stroke-width="2.8"/>
<rect x="234.8" y="284.7" width="12" height="12" fill="none" stroke="#22e622" stroke-width="2.1"/>
<rect x="266" y="120.7" width="12" height="12" fill="none" stroke="#22e622" stroke-width="2.8"/>
<rect x="337.8" y="120.7" width="12" height="12" fill="none" stroke="#22e622" stroke-width="2.8"/>
<rect x="337" y="141.4" width="12" height="12" fill="none" stroke="#22e622" stroke-width="2.8"/>
<rect x="247.1" y="155.7" width="12" height="12" fill="none" stroke="#22e622" stroke-width="2.8"/>
<rect x="298.3" y="163.8" width="12" height="12" fill="none" stroke="#22e622" stroke-width="2.8"/>
<rect x="297.4" y="186.3" width="12" height="12" fill="none" stroke="#22e622" stroke-width="2.8"/>
<rect x="316.3" y="196" width="12" height="12" fill="none" stroke="#22e622" stroke-width="2.8"/>
<rect x="336" y="185.4" width="12" height="12" fill="none" stroke="#22e622" stroke-width="2.8"/>
<rect x="283" y="86.6" width="12" height="12" fill="none" stroke="#22e622" stroke-width="2.1"/>
<rect x="318" y="87.5" width="12" height="12" fill="none" stroke="#22e622" stroke-width="2.1"/>
<rect x="192.6" y="122.9" width="12" height="12" fill="none" stroke="#44e044" stroke-width="1.9"/>
<rect x="193.4" y="145.2" width="12" height="12" fill="none" stroke="#44e044" stroke-width="1.9"/>
<rect x="211.6" y="155.2" width="12" height="12" fill="none" stroke="#44e044" stroke-width="1.9"/>
<rect x="128" y="169.3" width="12" height="12" fill="none" stroke="#44e044" stroke-width="1.9"/>
<rect x="229.5" y="122" width="12" height="12" fill="none" stroke="#44e044" stroke-width="1.9"/>
<rect x="248" y="110" width="12" height="12" fill="none" stroke="#44e044" stroke-width="1.9"/>
<rect x="283" y="109" width="12" height="12" fill="none" stroke="#44e044" stroke-width="1.9"/>
<rect x="301" y="121.6" width="12" height="12" fill="none" stroke="#44e044" stroke-width="1.9"/>
<rect x="318" y="110" width="12" height="12" fill="none" stroke="#44e044" stroke-width="1.9"/>
<rect x="114" y="224.4" width="12" height="12" fill="none" stroke="#44e044" stroke-width="1.9"/>
<rect x="125.7" y="243.2" width="12" height="12" fill="none" stroke="#44e044" stroke-width="1.9"/>
<rect x="171.4" y="244.1" width="12" height="12" fill="none" stroke="#44e044" stroke-width="1.9"/>
<rect x="193.9" y="282.7" width="12" height="12" fill="none" stroke="#44e044" stroke-width="1.9"/>
<line x1="162.1" y1="152.9" x2="143.9" y2="140.5" stroke="#141414" stroke-width="1.5" stroke-linecap="round"/>
<line x1="143.9" y1="140.5" x2="127.3" y2="152.9" stroke="#141414" stroke-width="1.5" stroke-linecap="round"/>
<line x1="127.3" y1="152.9" x2="134" y2="175.3" stroke="#141414" stroke-width="1.5" stroke-linecap="round"/>
<line x1="134" y1="175.3" x2="148.2" y2="174.1" stroke="#141414" stroke-width="1.5" stroke-linecap="round"/>
<line x1="162.1" y1="152.9" x2="161.3" y2="129.7" stroke="#141414" stroke-width="1.5" stroke-linecap="round"/>
<line x1="161.3" y1="129.7" x2="180.4" y2="118.9" stroke="#141414" stroke-width="1.5" stroke-linecap="round"/>
<line x1="180.4" y1="118.9" x2="198.6" y2="128.9" stroke="#141414" stroke-width="1.5" stroke-linecap="round"/>
<line x1="198.6" y1="128.9" x2="199.4" y2="151.2" stroke="#141414" stroke-width="1.5" stroke-linecap="round"/>
<line x1="174.6" y1="159.1" x2="162.1" y2="152.9" stroke="#141414" stroke-width="1.5" stroke-linecap="round"/>
<line x1="235.5" y1="128" x2="236" y2="150.4" stroke="#141414" stroke-width="1.5" stroke-linecap="round"/>
<line x1="236" y1="150.4" x2="217.6" y2="161.2" stroke="#141414" stroke-width="1.5" stroke-linecap="round"/>
<line x1="217.6" y1="161.2" x2="199.4" y2="151.2" stroke="#141414" stroke-width="1.5" stroke-linecap="round"/>
<line x1="235.5" y1="128" x2="254" y2="116" stroke="#141414" stroke-width="1.5" stroke-linecap="round"/>
<line x1="254" y1="116" x2="272" y2="126.7" stroke="#141414" stroke-width="1.5" stroke-linecap="round"/>
<line x1="272" y1="126.7" x2="289" y2="115" stroke="#141414" stroke-width="1.5" stroke-linecap="round"/>
<line x1="289" y1="115" x2="307" y2="127.6" stroke="#141414" stroke-width="1.5" stroke-linecap="round"/>
<line x1="307" y1="127.6" x2="324" y2="116" stroke="#141414" stroke-width="1.5" stroke-linecap="round"/>
<line x1="324" y1="116" x2="343.8" y2="126.7" stroke="#141414" stroke-width="1.5" stroke-linecap="round"/>
<line x1="343.8" y1="126.7" x2="343" y2="147.4" stroke="#141414" stroke-width="1.5" stroke-linecap="round"/>
<line x1="343" y1="147.4" x2="324" y2="159" stroke="#141414" stroke-width="1.5" stroke-linecap="round"/>
<line x1="324" y1="159" x2="336.7" y2="167.9" stroke="#141414" stroke-width="1.5" stroke-linecap="round"/>
<line x1="342" y1="178.1" x2="342" y2="191.4" stroke="#141414" stroke-width="1.5" stroke-linecap="round"/>
<line x1="342" y1="191.4" x2="322.3" y2="202" stroke="#141414" stroke-width="1.5" stroke-linecap="round"/>
<line x1="322.3" y1="202" x2="303.4" y2="192.3" stroke="#141414" stroke-width="1.5" stroke-linecap="round"/>
<line x1="303.4" y1="192.3" x2="304.3" y2="169.8" stroke="#141414" stroke-width="1.5" stroke-linecap="round"/>
<line x1="304.3" y1="169.8" x2="324" y2="159" stroke="#141414" stroke-width="1.5" stroke-linecap="round"/>
<line x1="132.6" y1="211.5" x2="120" y2="230.4" stroke="#141414" stroke-width="1.5" stroke-linecap="round"/>
<line x1="120" y1="230.4" x2="131.7" y2="249.2" stroke="#141414" stroke-width="1.5" stroke-linecap="round"/>
<line x1="131.7" y1="249.2" x2="121.8" y2="267.2" stroke="#141414" stroke-width="1.5" stroke-linecap="round"/>
<line x1="121.8" y1="267.2" x2="132.6" y2="286" stroke="#141414" stroke-width="1.5" stroke-linecap="round"/>
<line x1="132.6" y1="286" x2="121.8" y2="304" stroke="#141414" stroke-width="1.5" stroke-linecap="round"/>
<line x1="154.1" y1="286.9" x2="166.7" y2="268" stroke="#141414" stroke-width="1.5" stroke-linecap="round"/>
<line x1="157.7" y1="254.6" x2="166.7" y2="268" stroke="#141414" stroke-width="1.5" stroke-linecap="round"/>
<line x1="166.7" y1="268" x2="177.4" y2="250.1" stroke="#141414" stroke-width="1.5" stroke-linecap="round"/>
<line x1="177.4" y1="250.1" x2="199" y2="250.1" stroke="#141414" stroke-width="1.5" stroke-linecap="round"/>
<line x1="199" y1="250.1" x2="210.6" y2="269.9" stroke="#141414" stroke-width="1.5" stroke-linecap="round"/>
<line x1="210.6" y1="269.9" x2="199.9" y2="288.7" stroke="#141414" stroke-width="1.5" stroke-linecap="round"/>
<line x1="199.9" y1="288.7" x2="184.8" y2="288.7" stroke="#141414" stroke-width="1.5" stroke-linecap="round"/>
<line x1="210.4" y1="309.4" x2="232.5" y2="310.7" stroke="#141414" stroke-width="1.5" stroke-linecap="round"/>
<line x1="232.5" y1="310.7" x2="240.8" y2="290.7" stroke="#141414" stroke-width="1.5" stroke-linecap="round"/>
<line x1="232.5" y1="310.7" x2="242.8" y2="329.4" stroke="#141414" stroke-width="1.5" stroke-linecap="round"/>
<line x1="242.8" y1="329.4" x2="256" y2="329.8" stroke="#141414" stroke-width="1.5" stroke-linecap="round"/>
<line x1="236" y1="150.4" x2="253.1" y2="161.7" stroke="#141414" stroke-width="1.5" stroke-linecap="round"/>
<line x1="236.3" y1="154.4" x2="249.3" y2="163" stroke="#141414" stroke-width="1.5" stroke-linecap="round"/>
<line x1="122.7" y1="191.8" x2="132.6" y2="211.5" stroke="#141414" stroke-width="1.5" stroke-linecap="round"/>
<line x1="126.7" y1="192.6" x2="134.3" y2="207.8" stroke="#141414" stroke-width="1.5" stroke-linecap="round"/>
<line x1="132.6" y1="286" x2="154.1" y2="286.9" stroke="#141414" stroke-width="1.5" stroke-linecap="round"/>
<line x1="135" y1="289.3" x2="151.5" y2="290" stroke="#141414" stroke-width="1.5" stroke-linecap="round"/>
<line x1="242.8" y1="329.4" x2="235.9" y2="340.5" stroke="#141414" stroke-width="1.5" stroke-linecap="round"/>
<line x1="244.2" y1="333.2" x2="240" y2="340" stroke="#141414" stroke-width="1.5" stroke-linecap="round"/>
<polygon points="162.1,152.9 154,166.4 159.8,168.5" fill="#1a9a1a"/>
<polygon points="198.6,128.9 213,123.4 209.7,118.2" fill="#1a9a1a"/>
<polygon points="217.6,161.2 214.4,175 220.6,175" fill="#1a9a1a"/>
<polygon points="254,116 257.1,100 250.9,100" fill="#1a9a1a"/>
<polygon points="324,159 314.2,149.1 310.8,154.4" fill="#1a9a1a"/>
<polygon points="134,175.3 120.1,190 125.3,193.6" fill="#1a9a1a"/>
<polygon points="131.7,249.2 147.6,252.3 147.6,246.1" fill="#1a9a1a"/>
<polygon points="199.9,288.7 207.6,310.8 213.2,308" fill="#1a9a1a"/>
<polygon points="232.5,310.7 248.2,312.9 247.8,306.7" fill="#1a9a1a"/>
<line x1="234.2" y1="126.2" x2="233.3" y2="127.8" stroke="#2f3f2f" stroke-width="1.1"/>
<line x1="232.3" y1="124.7" x2="231" y2="126.9" stroke="#2f3f2f" stroke-width="1.1"/>
<line x1="230.4" y1="123.1" x2="228.7" y2="126" stroke="#2f3f2f" stroke-width="1.1"/>
<line x1="228.4" y1="121.5" x2="226.3" y2="125.2" stroke="#2f3f2f" stroke-width="1.1"/>
<line x1="226.5" y1="120" x2="224" y2="124.3" stroke="#2f3f2f" stroke-width="1.1"/>
<line x1="224.6" y1="118.4" x2="221.7" y2="123.4" stroke="#2f3f2f" stroke-width="1.1"/>
<line x1="197.2" y1="151.4" x2="198.1" y2="153" stroke="#2f3f2f" stroke-width="1.1"/>
<line x1="194.8" y1="152.3" x2="196.1" y2="154.6" stroke="#2f3f2f" stroke-width="1.1"/>
<line x1="192.5" y1="153.2" x2="194.1" y2="156.1" stroke="#2f3f2f" stroke-width="1.1"/>
<line x1="190.1" y1="154.1" x2="192.2" y2="157.7" stroke="#2f3f2f" stroke-width="1.1"/>
<line x1="187.7" y1="155" x2="190.2" y2="159.3" stroke="#2f3f2f" stroke-width="1.1"/>
<line x1="185.3" y1="155.9" x2="188.2" y2="160.9" stroke="#2f3f2f" stroke-width="1.1"/>
<line x1="289.9" y1="113" x2="288.1" y2="113" stroke="#2f3f2f" stroke-width="1.1"/>
<line x1="290.1" y1="110.8" x2="287.9" y2="110.8" stroke="#2f3f2f" stroke-width="1.1"/>
<line x1="290.3" y1="108.6" x2="287.7" y2="108.6" stroke="#2f3f2f" stroke-width="1.1"/>
<line x1="290.6" y1="106.5" x2="287.4" y2="106.5" stroke="#2f3f2f" stroke-width="1.1"/>
<line x1="290.8" y1="104.3" x2="287.2" y2="104.3" stroke="#2f3f2f" stroke-width="1.1"/>
<line x1="291" y1="102.1" x2="287" y2="102.1" stroke="#2f3f2f" stroke-width="1.1"/>
<line x1="291.2" y1="99.9" x2="286.8" y2="99.9" stroke="#2f3f2f" stroke-width="1.1"/>
<line x1="291.5" y1="97.8" x2="286.5" y2="97.8" stroke="#2f3f2f" stroke-width="1.1"/>
<line x1="291.7" y1="95.6" x2="286.3" y2="95.6" stroke="#2f3f2f" stroke-width="1.1"/>
<line x1="291.9" y1="93.4" x2="286.1" y2="93.4" stroke="#2f3f2f" stroke-width="1.1"/>
<line x1="306.1" y1="129.6" x2="307.9" y2="129.6" stroke="#2f3f2f" stroke-width="1.1"/>
<line x1="305.7" y1="131.9" x2="308.3" y2="131.9" stroke="#2f3f2f" stroke-width="1.1"/>
<line x1="305.3" y1="134.2" x2="308.7" y2="134.2" stroke="#2f3f2f" stroke-width="1.1"/>
<line x1="304.9" y1="136.4" x2="309.1" y2="136.4" stroke="#2f3f2f" stroke-width="1.1"/>
<line x1="304.5" y1="138.7" x2="309.5" y2="138.7" stroke="#2f3f2f" stroke-width="1.1"/>
<line x1="304.1" y1="141" x2="309.9" y2="141" stroke="#2f3f2f" stroke-width="1.1"/>
<line x1="324.9" y1="114" x2="323.1" y2="114" stroke="#2f3f2f" stroke-width="1.1"/>
<line x1="325.1" y1="111.8" x2="322.9" y2="111.8" stroke="#2f3f2f" stroke-width="1.1"/>
<line x1="325.3" y1="109.6" x2="322.7" y2="109.6" stroke="#2f3f2f" stroke-width="1.1"/>
<line x1="325.6" y1="107.4" x2="322.4" y2="107.4" stroke="#2f3f2f" stroke-width="1.1"/>
<line x1="325.8" y1="105.2" x2="322.2" y2="105.2" stroke="#2f3f2f" stroke-width="1.1"/>
<line x1="326" y1="103.1" x2="322" y2="103.1" stroke="#2f3f2f" stroke-width="1.1"/>
<line x1="326.2" y1="100.9" x2="321.8" y2="100.9" stroke="#2f3f2f" stroke-width="1.1"/>
<line x1="326.5" y1="98.7" x2="321.5" y2="98.7" stroke="#2f3f2f" stroke-width="1.1"/>
<line x1="326.7" y1="96.5" x2="321.3" y2="96.5" stroke="#2f3f2f" stroke-width="1.1"/>
<line x1="326.9" y1="94.3" x2="321.1" y2="94.3" stroke="#2f3f2f" stroke-width="1.1"/>
<line x1="118.1" y1="229.2" x2="117.9" y2="231" stroke="#2f3f2f" stroke-width="1.1"/>
<line x1="115.9" y1="228.7" x2="115.6" y2="231" stroke="#2f3f2f" stroke-width="1.1"/>
<line x1="113.7" y1="228.2" x2="113.4" y2="230.9" stroke="#2f3f2f" stroke-width="1.1"/>
<line x1="111.5" y1="227.6" x2="111.1" y2="230.9" stroke="#2f3f2f" stroke-width="1.1"/>
<line x1="109.4" y1="227.1" x2="108.9" y2="230.9" stroke="#2f3f2f" stroke-width="1.1"/>
<line x1="107.2" y1="226.5" x2="106.6" y2="230.8" stroke="#2f3f2f" stroke-width="1.1"/>
<line x1="105" y1="226" x2="104.3" y2="230.8" stroke="#2f3f2f" stroke-width="1.1"/>
<line x1="102.8" y1="225.5" x2="102.1" y2="230.7" stroke="#2f3f2f" stroke-width="1.1"/>
<line x1="100.6" y1="224.9" x2="99.8" y2="230.7" stroke="#2f3f2f" stroke-width="1.1"/>
<line x1="177.4" y1="247.9" x2="175.7" y2="248.7" stroke="#2f3f2f" stroke-width="1.1"/>
<line x1="176.6" y1="245.5" x2="174.3" y2="246.6" stroke="#2f3f2f" stroke-width="1.1"/>
<line x1="175.9" y1="243" x2="172.8" y2="244.5" stroke="#2f3f2f" stroke-width="1.1"/>
<line x1="175.2" y1="240.6" x2="171.4" y2="242.4" stroke="#2f3f2f" stroke-width="1.1"/>
<line x1="174.5" y1="238.2" x2="170" y2="240.3" stroke="#2f3f2f" stroke-width="1.1"/>
<line x1="173.8" y1="235.7" x2="168.5" y2="238.2" stroke="#2f3f2f" stroke-width="1.1"/>
<line x1="166.9" y1="270.2" x2="168.5" y2="269.3" stroke="#2f3f2f" stroke-width="1.1"/>
<line x1="167.8" y1="272.4" x2="169.9" y2="271.2" stroke="#2f3f2f" stroke-width="1.1"/>
<line x1="168.7" y1="274.7" x2="171.4" y2="273.2" stroke="#2f3f2f" stroke-width="1.1"/>
<line x1="169.5" y1="277" x2="172.9" y2="275.1" stroke="#2f3f2f" stroke-width="1.1"/>
<line x1="170.4" y1="279.2" x2="174.3" y2="277" stroke="#2f3f2f" stroke-width="1.1"/>
<line x1="171.3" y1="281.5" x2="175.8" y2="279" stroke="#2f3f2f" stroke-width="1.1"/>
<line x1="172.2" y1="283.7" x2="177.3" y2="280.9" stroke="#2f3f2f" stroke-width="1.1"/>
<text x="154.7" y="178.8" font-family="Liberation Sans" font-size="14.5" fill="#141414" text-anchor="middle">O</text>
<text x="180.4" y="167.2" font-family="Liberation Sans" font-size="14.5" fill="#141414" text-anchor="middle">O</text>
<text x="216.8" y="122.5" font-family="Liberation Sans" font-size="14.5" fill="#141414" text-anchor="middle">O</text>
<text x="307" y="153.5" font-family="Liberation Sans" font-size="14.5" fill="#141414" text-anchor="middle">O</text>
<text x="342" y="176.8" font-family="Liberation Sans" font-size="14.5" fill="#141414" text-anchor="middle">O</text>
<text x="154.1" y="254.4" font-family="Liberation Sans" font-size="14.5" fill="#141414" text-anchor="middle">O</text>
<text x="178.3" y="293.9" font-family="Liberation Sans" font-size="14.5" fill="#141414" text-anchor="middle">O</text>
<text x="232.5" y="351.2" font-family="Liberation Sans" font-size="14.5" fill="#141414" text-anchor="middle">O</text>
<text x="211.9" y="186.7" font-family="Liberation Sans" font-size="14.5" fill="#141414">OH</text>
<text x="248.4" y="98.7" font-family="Liberation Sans" font-size="14.5" fill="#141414">OH</text>
<text x="248.9" y="314.6" font-family="Liberation Sans" font-size="14.5" fill="#141414">OH</text>
<text x="256.9" y="335.2" font-family="Liberation Sans" font-size="14.5" fill="#141414">OH</text>
<text x="173.6" y="235.6" font-family="Liberation Sans" font-size="14.5" fill="#141414" text-anchor="end">HO</text>
<text x="223.5" y="354" font-family="Liberation Sans" font-size="11.5" fill="#e03a3a" text-anchor="middle">racemate</text>
<text x="167.1" y="152.8" font-family="Liberation Sans" font-size="9" fill="#3aa83a" text-anchor="middle">&amp;1</text>
<text x="158" y="159.2" font-family="Liberation Sans" font-size="8" fill="#e04a4a" text-anchor="middle">R</text>
<text x="199.4" y="127.1" font-family="Liberation Sans" font-size="9" fill="#3aa83a" text-anchor="middle">&amp;1</text>
<text x="196.1" y="135.2" font-family="Liberation Sans" font-size="8" fill="#e04a4a" text-anchor="middle">R</text>
<text x="203.5" y="152.8" font-family="Liberation Sans" font-size="9" fill="#3aa83a" text-anchor="middle">&amp;1</text>
<text x="196.1" y="158.4" font-family="Liberation Sans" font-size="8" fill="#e04a4a" text-anchor="middle">S</text>
<text x="217.6" y="159.4" font-family="Liberation Sans" font-size="9" fill="#3aa83a" text-anchor="middle">&amp;1</text>
<text x="214.3" y="167.5" font-family="Liberation Sans" font-size="8" fill="#e04a4a" text-anchor="middle">R</text>
<text x="138.9" y="173.5" font-family="Liberation Sans" font-size="9" fill="#3aa83a" text-anchor="middle">&amp;1</text>
<text x="131.5" y="179.9" font-family="Liberation Sans" font-size="8" fill="#e04a4a" text-anchor="middle">R</text>
<text x="234.6" y="124.6" font-family="Liberation Sans" font-size="9" fill="#3aa83a" text-anchor="middle">&amp;1</text>
<text x="232.5" y="133" font-family="Liberation Sans" font-size="8" fill="#e04a4a" text-anchor="middle">S</text>
<text x="258.5" y="116.4" font-family="Liberation Sans" font-size="9" fill="#3aa83a" text-anchor="middle">&amp;1</text>
<text x="251.3" y="123.4" font-family="Liberation Sans" font-size="8" fill="#e04a4a" text-anchor="middle">S</text>
<text x="293.5" y="115.5" font-family="Liberation Sans" font-size="9" fill="#3aa83a" text-anchor="middle">&amp;1</text>
<text x="287.2" y="121.6" font-family="Liberation Sans" font-size="8" fill="#e04a4a" text-anchor="middle">S</text>
<text x="307.9" y="126.3" font-family="Liberation Sans" font-size="9" fill="#3aa83a" text-anchor="middle">&amp;1</text>
<text x="303.4" y="134.2" font-family="Liberation Sans" font-size="8" fill="#e04a4a" text-anchor="middle">S</text>
<text x="328.6" y="116.4" font-family="Liberation Sans" font-size="9" fill="#3aa83a" text-anchor="middle">&amp;1</text>
<text x="322.3" y="123.4" font-family="Liberation Sans" font-size="8" fill="#e04a4a" text-anchor="middle">R</text>
<text x="324" y="156" font-family="Liberation Sans" font-size="9" fill="#3aa83a" text-anchor="middle">&amp;1</text>
<text x="321.4" y="166.5" font-family="Liberation Sans" font-size="8" fill="#e04a4a" text-anchor="middle">S</text>
<text x="117.3" y="227.3" font-family="Liberation Sans" font-size="9" fill="#3aa83a" text-anchor="middle">&amp;1</text>
<text x="116.4" y="237" font-family="Liberation Sans" font-size="8" fill="#e04a4a" text-anchor="middle">R</text>
<text x="135.3" y="246.2" font-family="Liberation Sans" font-size="9" fill="#3aa83a" text-anchor="middle">&amp;1</text>
<text x="129.9" y="255.8" font-family="Liberation Sans" font-size="8" fill="#e04a4a" text-anchor="middle">S</text>
<text x="180.1" y="247.9" font-family="Liberation Sans" font-size="9" fill="#3aa83a" text-anchor="middle">&amp;1</text>
<text x="174.7" y="256.7" font-family="Liberation Sans" font-size="8" fill="#e04a4a" text-anchor="middle">R</text>
<text x="172.1" y="272.2" font-family="Liberation Sans" font-size="9" fill="#3aa83a" text-anchor="middle">&amp;1</text>
<text x="163.1" y="274.7" font-family="Liberation Sans" font-size="8" fill="#e04a4a" text-anchor="middle">R</text>
<text x="207" y="292.5" font-family="Liberation Sans" font-size="9" fill="#3aa83a" text-anchor="middle">&amp;1</text>
<text x="198.3" y="296.3" font-family="Liberation Sans" font-size="8" fill="#e04a4a" text-anchor="middle">S</text>
<text x="228.3" y="309.1" font-family="Liberation Sans" font-size="9" fill="#3aa83a" text-anchor="middle">&amp;1</text>
<text x="230.4" y="317.9" font-family="Liberation Sans" font-size="8" fill="#e04a4a" text-anchor="middle">R</text>
<text x="133.5" y="203" font-family="Liberation Sans" font-size="8" fill="#e04a4a" text-anchor="middle">E</text>
</svg></body></html>
